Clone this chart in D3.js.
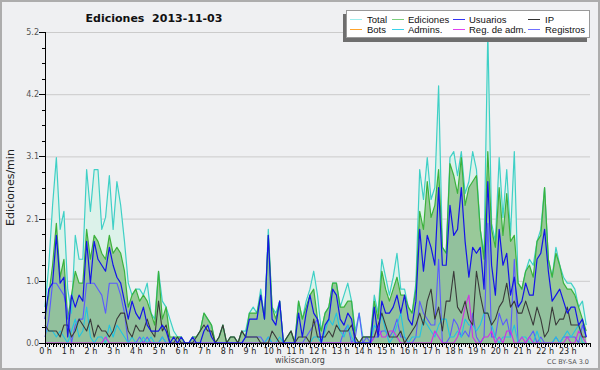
<!DOCTYPE html>
<html>
<head>
<meta charset="utf-8">
<script src="https://cdn.jsdelivr.net/npm/d3@7"></script>
<style>
  html, body { margin: 0; padding: 0; background: #eff0f2; }
  svg { display: block; }
</style>
</head>
<body>
<svg width="600" height="370"></svg>
<script>
// one value per 10 minutes, edits per minute
var total = [
  0.6, 1.3, 2.3, 3.1, 1.9, 2.2, 0.9, 0.5, 1.8, 1.4, 1.4, 2.9,
  2.2, 2.9, 2.9, 1.9, 2.1, 2.8, 1.9, 2.7, 2.3, 1.7, 1.0, 0.8,
  0.9, 0.9, 0.8, 1.0, 0.5, 0.4, 1.2, 0.7, 0.6, 0.4, 0.2, 0.1,
  0.1, 0.0, 0.0, 0.1, 0.1, 0.2, 0.5, 0.4, 0.3, 0.0, 0.1, 0.3,
  0.0, 0.1, 0.1, 0.0, 0.2, 0.2, 0.5, 0.6, 0.5, 0.9, 0.4, 1.9,
  0.6, 0.5, 0.7, 0.0, 0.1, 0.2, 0.0, 0.7, 0.4, 0.7, 0.9, 1.2,
  0.8, 0.2, 0.5, 0.6, 1.0, 1.0, 0.6, 0.8, 1.0, 0.7, 0.2, 0.5,
  0.1, 0.1, 0.1, 0.8, 0.5, 1.4, 1.1, 0.8, 1.1, 1.5, 0.9, 0.9,
  0.6, 0.5, 1.0, 2.9, 2.4, 3.1, 2.4, 2.6, 4.3, 1.6, 1.5, 3.1,
  3.2, 2.8, 3.2, 2.5, 2.7, 3.2, 2.9, 1.9, 1.5, 5.2, 2.0, 1.7,
  3.1, 2.1, 2.9, 1.8, 3.2, 1.0, 0.9, 1.2, 1.4, 1.3, 1.7, 1.9,
  2.6, 1.4, 1.1, 1.6, 1.3, 1.1, 1.0, 1.0, 0.9, 0.6, 0.7, 0.3
];
var ediciones = [
  0.5, 0.8, 1.3, 2.0, 1.1, 1.4, 0.4, 0.8, 1.2, 1.0, 1.0, 1.9,
  1.4, 1.8, 1.7, 1.5, 1.4, 1.8, 1.5, 1.6, 1.5, 1.2, 0.6, 0.8,
  0.9, 0.7, 0.8, 0.7, 0.5, 0.3, 1.2, 0.4, 0.6, 0.1, 0.1, 0.1,
  0.1, 0.0, 0.0, 0.1, 0.1, 0.2, 0.5, 0.4, 0.3, 0.0, 0.1, 0.3,
  0.0, 0.1, 0.1, 0.0, 0.2, 0.1, 0.5, 0.5, 0.5, 0.8, 0.4, 1.8,
  0.6, 0.4, 0.7, 0.0, 0.1, 0.2, 0.0, 0.7, 0.4, 0.6, 0.8, 0.9,
  0.4, 0.2, 0.5, 0.6, 1.0, 1.0, 0.6, 0.6, 0.7, 0.7, 0.1, 0.0,
  0.1, 0.1, 0.1, 0.7, 0.4, 1.2, 0.9, 0.7, 0.9, 1.1, 0.8, 0.8,
  0.6, 0.5, 0.9, 2.2, 1.9, 2.7, 2.1, 2.3, 2.9, 1.6, 1.5, 3.0,
  2.8, 2.5, 3.1, 2.3, 2.6, 2.7, 2.8, 1.9, 1.4, 3.2, 1.9, 1.6,
  2.6, 1.8, 2.5, 1.7, 1.8, 1.0, 0.9, 1.2, 1.3, 1.1, 1.7, 1.8,
  2.6, 1.4, 1.1, 1.5, 1.3, 1.0, 0.9, 0.9, 0.8, 0.6, 0.4, 0.2
];
var usuarios = [
  0.4, 0.9, 1.0, 1.8, 1.0, 1.1, 0.1, 0.8, 0.6, 0.8, 0.7, 1.7,
  1.0, 1.7, 1.4, 1.3, 1.2, 1.6, 1.3, 1.1, 1.0, 0.7, 0.4, 0.7,
  0.5, 0.4, 0.6, 0.3, 0.2, 0.2, 0.2, 0.3, 0.2, 0.0, 0.1, 0.0,
  0.1, 0.0, 0.0, 0.1, 0.0, 0.0, 0.2, 0.3, 0.1, 0.0, 0.0, 0.0,
  0.0, 0.0, 0.0, 0.0, 0.0, 0.1, 0.4, 0.4, 0.4, 0.8, 0.4, 1.8,
  0.4, 0.3, 0.7, 0.0, 0.0, 0.0, 0.0, 0.5, 0.1, 0.5, 0.8, 0.5,
  0.4, 0.0, 0.3, 0.4, 0.9, 0.8, 0.4, 0.3, 0.5, 0.4, 0.0, 0.0,
  0.0, 0.0, 0.0, 0.6, 0.1, 0.7, 0.5, 0.5, 0.6, 0.8, 0.5, 0.8,
  0.4, 0.3, 0.7, 1.9, 1.2, 1.8, 1.6, 1.3, 2.6, 1.3, 1.3, 2.3,
  1.8, 1.9, 2.6, 1.7, 1.1, 1.6, 1.5, 1.6, 0.9, 2.7, 1.3, 0.8,
  1.9, 1.3, 1.5, 0.8, 1.1, 0.6, 0.7, 1.0, 0.8, 0.8, 1.4, 1.5,
  1.9, 1.2, 0.7, 0.8, 0.9, 0.7, 0.5, 0.6, 0.6, 0.3, 0.4, 0.1
];
var ip = [
  0.3, 0.2, 0.2, 0.2, 0.1, 0.3, 0.3, 0.1, 0.2, 0.4, 0.3, 0.2,
  0.4, 0.1, 0.3, 0.2, 0.2, 0.1, 0.2, 0.4, 0.5, 0.5, 0.2, 0.1,
  0.3, 0.2, 0.2, 0.4, 0.2, 0.1, 0.7, 0.2, 0.3, 0.0, 0.0, 0.1,
  0.0, 0.0, 0.0, 0.0, 0.1, 0.2, 0.3, 0.2, 0.2, 0.0, 0.1, 0.3,
  0.0, 0.1, 0.1, 0.0, 0.2, 0.1, 0.1, 0.1, 0.1, 0.0, 0.0, 0.0,
  0.2, 0.1, 0.0, 0.0, 0.1, 0.2, 0.0, 0.1, 0.1, 0.1, 0.0, 0.4,
  0.1, 0.1, 0.1, 0.2, 0.1, 0.3, 0.2, 0.2, 0.2, 0.3, 0.1, 0.0,
  0.1, 0.1, 0.1, 0.1, 0.3, 0.5, 0.3, 0.1, 0.1, 0.1, 0.2, 0.0,
  0.1, 0.2, 0.3, 0.5, 0.3, 0.7, 0.9, 0.4, 0.6, 0.2, 0.7, 0.7,
  1.2, 0.6, 0.5, 0.7, 0.4, 0.3, 1.2, 0.8, 0.5, 0.5, 0.3, 0.4,
  0.6, 0.7, 1.0, 0.6, 0.7, 0.5, 0.5, 0.7, 0.5, 0.3, 0.6, 0.4,
  0.1, 0.2, 0.6, 0.3, 0.4, 0.4, 0.6, 0.3, 0.3, 0.3, 0.1, 0.1
];
var admins = [
  0.2, 0.2, 0.2, 0.1, 0.2, 0.1, 0.0, 0.2, 0.4, 0.1, 0.2, 0.6,
  0.1, 0.0, 0.1, 0.1, 0.0, 0.3, 0.1, 0.3, 0.2, 0.1, 0.0, 0.1,
  0.0, 0.0, 0.1, 0.0, 0.1, 0.0, 0.0, 0.1, 0.0, 0.0, 0.0, 0.0,
  0.0, 0.0, 0.0, 0.0, 0.0, 0.0, 0.0, 0.0, 0.0, 0.0, 0.0, 0.0,
  0.0, 0.0, 0.0, 0.0, 0.0, 0.0, 0.0, 0.0, 0.0, 0.0, 0.0, 0.1,
  0.0, 0.0, 0.1, 0.0, 0.0, 0.0, 0.0, 0.0, 0.0, 0.0, 0.0, 0.1,
  0.1, 0.0, 0.2, 0.4, 0.3, 0.5, 0.2, 0.1, 0.3, 0.1, 0.0, 0.0,
  0.0, 0.0, 0.0, 0.3, 0.2, 0.5, 0.2, 0.0, 0.1, 0.3, 0.5, 0.1,
  0.0, 0.1, 0.1, 0.1, 0.4, 0.3, 0.2, 0.1, 0.3, 0.4, 0.4, 0.1,
  0.1, 0.2, 0.1, 0.4, 0.3, 0.3, 0.2, 0.3, 0.5, 0.5, 0.3, 0.1,
  0.0, 0.1, 0.1, 0.1, 0.3, 0.0, 0.1, 0.1, 0.0, 0.0, 0.2, 0.0,
  0.0, 0.0, 0.0, 0.1, 0.0, 0.1, 0.2, 0.1, 0.2, 0.3, 0.0, 0.0
];
var regAdm = [
  0.0, 0.0, 0.0, 0.0, 0.0, 0.0, 0.0, 0.0, 0.0, 0.0, 0.0, 0.0,
  0.0, 0.0, 0.0, 0.0, 0.1, 0.0, 0.0, 0.0, 0.0, 0.0, 0.0, 0.0,
  0.0, 0.0, 0.0, 0.0, 0.0, 0.0, 0.0, 0.0, 0.0, 0.0, 0.0, 0.0,
  0.0, 0.0, 0.0, 0.0, 0.0, 0.0, 0.0, 0.0, 0.0, 0.0, 0.0, 0.0,
  0.0, 0.0, 0.0, 0.0, 0.0, 0.0, 0.0, 0.0, 0.0, 0.0, 0.0, 0.0,
  0.0, 0.0, 0.0, 0.0, 0.0, 0.0, 0.0, 0.0, 0.0, 0.0, 0.0, 0.0,
  0.0, 0.0, 0.0, 0.0, 0.0, 0.0, 0.0, 0.0, 0.0, 0.0, 0.0, 0.0,
  0.0, 0.0, 0.0, 0.1, 0.3, 0.1, 0.1, 0.2, 0.2, 0.1, 0.0, 0.0,
  0.0, 0.0, 0.0, 0.0, 0.0, 0.0, 0.0, 0.2, 0.1, 0.0, 0.0, 0.0,
  0.0, 0.1, 0.3, 0.6, 0.8, 0.1, 0.0, 0.0, 0.1, 0.1, 0.2, 0.0,
  0.1, 0.0, 0.2, 0.2, 0.0, 0.0, 0.1, 0.0, 0.1, 0.0, 0.0, 0.0,
  0.0, 0.0, 0.0, 0.0, 0.0, 0.0, 0.1, 0.0, 0.0, 0.2, 0.1, 0.0
];
var registros = [
  0.1, 0.4, 1.0, 1.0, 0.9, 0.8, 0.5, 0.0, 0.3, 0.4, 0.4, 1.0,
  1.0, 1.0, 0.9, 0.8, 0.5, 1.0, 1.0, 1.0, 0.8, 0.5, 0.0, 0.0,
  0.0, 0.1, 0.0, 0.1, 0.0, 0.0, 0.0, 0.1, 0.0, 0.0, 0.0, 0.0,
  0.0, 0.0, 0.0, 0.0, 0.0, 0.0, 0.0, 0.0, 0.0, 0.0, 0.0, 0.0,
  0.0, 0.0, 0.0, 0.0, 0.0, 0.1, 0.1, 0.1, 0.1, 0.1, 0.0, 0.1,
  0.0, 0.0, 0.0, 0.0, 0.0, 0.0, 0.0, 0.0, 0.0, 0.1, 0.2, 0.3,
  0.4, 0.0, 0.0, 0.0, 0.0, 0.0, 0.0, 0.2, 0.3, 0.0, 0.1, 0.5,
  0.0, 0.1, 0.0, 0.1, 0.1, 0.2, 0.2, 0.1, 0.2, 0.4, 0.1, 0.1,
  0.0, 0.0, 0.1, 0.7, 0.5, 0.4, 0.3, 0.3, 1.4, 0.0, 0.0, 0.1,
  0.4, 0.3, 0.1, 0.2, 0.1, 0.5, 0.1, 0.0, 0.1, 2.0, 0.1, 0.1,
  0.5, 0.3, 0.4, 0.1, 1.4, 0.0, 0.0, 0.0, 0.1, 0.2, 0.0, 0.1,
  0.0, 0.0, 0.0, 0.1, 0.0, 0.1, 0.1, 0.1, 0.1, 0.0, 0.3, 0.1
];

var yTicks = [0, 1.04, 2.08, 3.12, 4.16, 5.2];
var yTickLabels = ["0.0", "1.0", "2.1", "3.1", "4.2", "5.2"];
var hourLabels = [
  "0 h", "1 h", "2 h", "3 h", "4 h", "5 h", "6 h", "7 h", "8 h", "9 h", "10 h", "11 h",
  "12 h", "13 h", "14 h", "15 h", "16 h", "17 h", "18 h", "19 h", "20 h", "21 h", "22 h", "23 h"
];
var legendNames = ["Total", "Ediciones", "Usuarios", "IP", "Bots", "Admins.", "Reg. de adm.", "Registros"];
var legendColors = ["#9eeeee", "#7ccf7c", "#3434f4", "#333333", "#ffa42c", "#3ad2ea", "#e040f0", "#7070ff"];

var svg = d3.select("svg");
var W = 600, H = 370;
var margin = { top: 32, right: 10, bottom: 27, left: 45 };

svg.append("rect")
  .attr("x", 1).attr("y", 1)
  .attr("width", W - 2).attr("height", H - 2)
  .attr("fill", "#eff0f2")
  .attr("stroke", "#adadad")
  .attr("stroke-width", 2);

var x = d3.scaleLinear().domain([0, 24]).range([margin.left, W - margin.right]);
var y = d3.scaleLinear().domain([0, 5.2]).range([H - margin.bottom, margin.top]);
var stepH = 10 / 60;

// gridlines
svg.append("g")
  .selectAll("line")
  .data(yTicks.slice(1))
  .enter().append("line")
  .attr("x1", x(0)).attr("x2", x(24))
  .attr("y1", function(d) { return y(d) + 0.5; })
  .attr("y2", function(d) { return y(d) + 0.5; })
  .attr("stroke", "#cbcbcb")
  .attr("stroke-width", 1);

var area = d3.area()
  .x(function(d, i) { return x(i * stepH); })
  .y0(y(0))
  .y1(function(d) { return y(d); });

var line = d3.line()
  .x(function(d, i) { return x(i * stepH); })
  .y(function(d) { return y(d); });

var plot = svg.append("g");

plot.append("path").attr("d", area(total)).attr("fill", "#dcf2ea");
plot.append("path").attr("d", area(ediciones)).attr("fill", "#99c999");
plot.append("path").attr("d", area(usuarios)).attr("fill", "rgba(30,60,220,0.06)");

var series = [
  { values: total, color: "#3fd0c6", width: 1.2 },
  { values: ediciones, color: "#3cb23c", width: 1.2 },
  { values: registros, color: "#5a5aff", width: 1.1 },
  { values: admins, color: "#22c4e2", width: 1.1 },
  { values: regAdm, color: "#d22ee6", width: 1.1 },
  { values: ip, color: "#3a3a3a", width: 1.1 },
  { values: usuarios, color: "#1414e8", width: 1.2 }
];

series.forEach(function(s) {
  plot.append("path")
    .attr("d", line(s.values))
    .attr("fill", "none")
    .attr("stroke", s.color)
    .attr("stroke-width", s.width)
    .attr("stroke-linejoin", "round");
});

// y axis
var yAxis = svg.append("g").attr("font-family", "DejaVu Sans, sans-serif");
yAxis.append("line")
  .attr("x1", x(0) + 0.5).attr("x2", x(0) + 0.5)
  .attr("y1", y(5.2)).attr("y2", y(0) + 1)
  .attr("stroke", "#000");

var minorY = d3.range(0, 21).map(function(k) { return k * 0.26; });
yAxis.selectAll("line.minor")
  .data(minorY)
  .enter().append("line")
  .attr("class", "minor")
  .attr("x1", function(d, i) { return i % 4 == 0 ? x(0) - 6 : x(0) - 3; })
  .attr("x2", x(0))
  .attr("y1", function(d) { return Math.round(y(d)) + 0.5; })
  .attr("y2", function(d) { return Math.round(y(d)) + 0.5; })
  .attr("stroke", "#000");

yAxis.selectAll("text")
  .data(yTicks)
  .enter().append("text")
  .attr("x", x(0) - 6)
  .attr("y", function(d) { return y(d) + 3; })
  .attr("text-anchor", "end")
  .attr("font-size", 8)
  .attr("fill", "#555")
  .text(function(d, i) { return yTickLabels[i]; });

// x axis
var xAxis = svg.append("g").attr("font-family", "DejaVu Sans, sans-serif");
xAxis.append("line")
  .attr("x1", x(0)).attr("x2", x(24))
  .attr("y1", y(0) + 0.5).attr("y2", y(0) + 0.5)
  .attr("stroke", "#000");

var minorX = d3.range(0, 24 * 12 + 1).map(function(k) { return k / 12; });
xAxis.selectAll("line.tick")
  .data(minorX)
  .enter().append("line")
  .attr("class", "tick")
  .attr("x1", function(d) { return Math.round(x(d)) + 0.5; })
  .attr("x2", function(d) { return Math.round(x(d)) + 0.5; })
  .attr("y1", y(0))
  .attr("y2", function(d, i) { return y(0) + (i % 2 == 0 ? 4 : 2); })
  .attr("stroke", "#000");

xAxis.selectAll("text")
  .data(hourLabels)
  .enter().append("text")
  .attr("x", function(d, i) { return x(i) + 0.5; })
  .attr("y", y(0) + 11)
  .attr("text-anchor", "middle")
  .attr("font-size", 8)
  .attr("fill", "#222")
  .text(function(d) { return d; });

// titles
svg.append("text")
  .attr("x", 154)
  .attr("y", 22)
  .attr("text-anchor", "middle")
  .attr("font-family", "DejaVu Sans, sans-serif")
  .attr("font-weight", "bold")
  .attr("font-size", 11)
  .attr("fill", "#111")
  .style("white-space", "pre")
  .text("Ediciones\u00a0 2013-11-03");

svg.append("text")
  .attr("transform", "translate(13.5," + ((y(0) + y(5.2)) / 2) + ") rotate(-90)")
  .attr("text-anchor", "middle")
  .attr("font-family", "DejaVu Sans, sans-serif")
  .attr("font-size", 11)
  .attr("fill", "#222")
  .text("Ediciones/min");

svg.append("text")
  .attr("x", 300)
  .attr("y", 363)
  .attr("text-anchor", "middle")
  .attr("font-family", "DejaVu Sans, sans-serif")
  .attr("font-size", 8)
  .attr("fill", "#444")
  .text("wikiscan.org");

svg.append("text")
  .attr("x", 589)
  .attr("y", 364)
  .attr("text-anchor", "end")
  .attr("font-family", "DejaVu Sans, sans-serif")
  .attr("font-size", 6.5)
  .attr("fill", "#555")
  .text("CC BY-SA 3.0");

// legend
var legend = svg.append("g").attr("font-family", "Liberation Sans, Arial, sans-serif");
legend.append("rect")
  .attr("x", 343).attr("y", 14).attr("width", 244).attr("height", 28)
  .attr("fill", "#6e6e6e");
legend.append("rect")
  .attr("x", 346.5).attr("y", 10.5).attr("width", 243).attr("height", 27)
  .attr("fill", "#fff")
  .attr("stroke", "#9a9a9a");

var colSwatch = [350, 392, 453, 528];
var colText = [367, 408, 469, 545];
var items = legend.selectAll("g.item")
  .data(legendNames)
  .enter().append("g")
  .attr("class", "item")
  .attr("transform", function(d, i) {
    return "translate(0," + (i < 4 ? 0 : 10) + ")";
  });
items.append("line")
  .attr("x1", function(d, i) { return colSwatch[i % 4]; })
  .attr("x2", function(d, i) { return colSwatch[i % 4] + 12; })
  .attr("y1", 19.5).attr("y2", 19.5)
  .attr("stroke", function(d, i) { return legendColors[i]; })
  .attr("stroke-width", 1);
items.append("text")
  .attr("x", function(d, i) { return colText[i % 4]; })
  .attr("y", 23)
  .attr("font-size", 9.5)
  .attr("fill", "#111")
  .text(function(d) { return d; });
</script>
</body>
</html>
